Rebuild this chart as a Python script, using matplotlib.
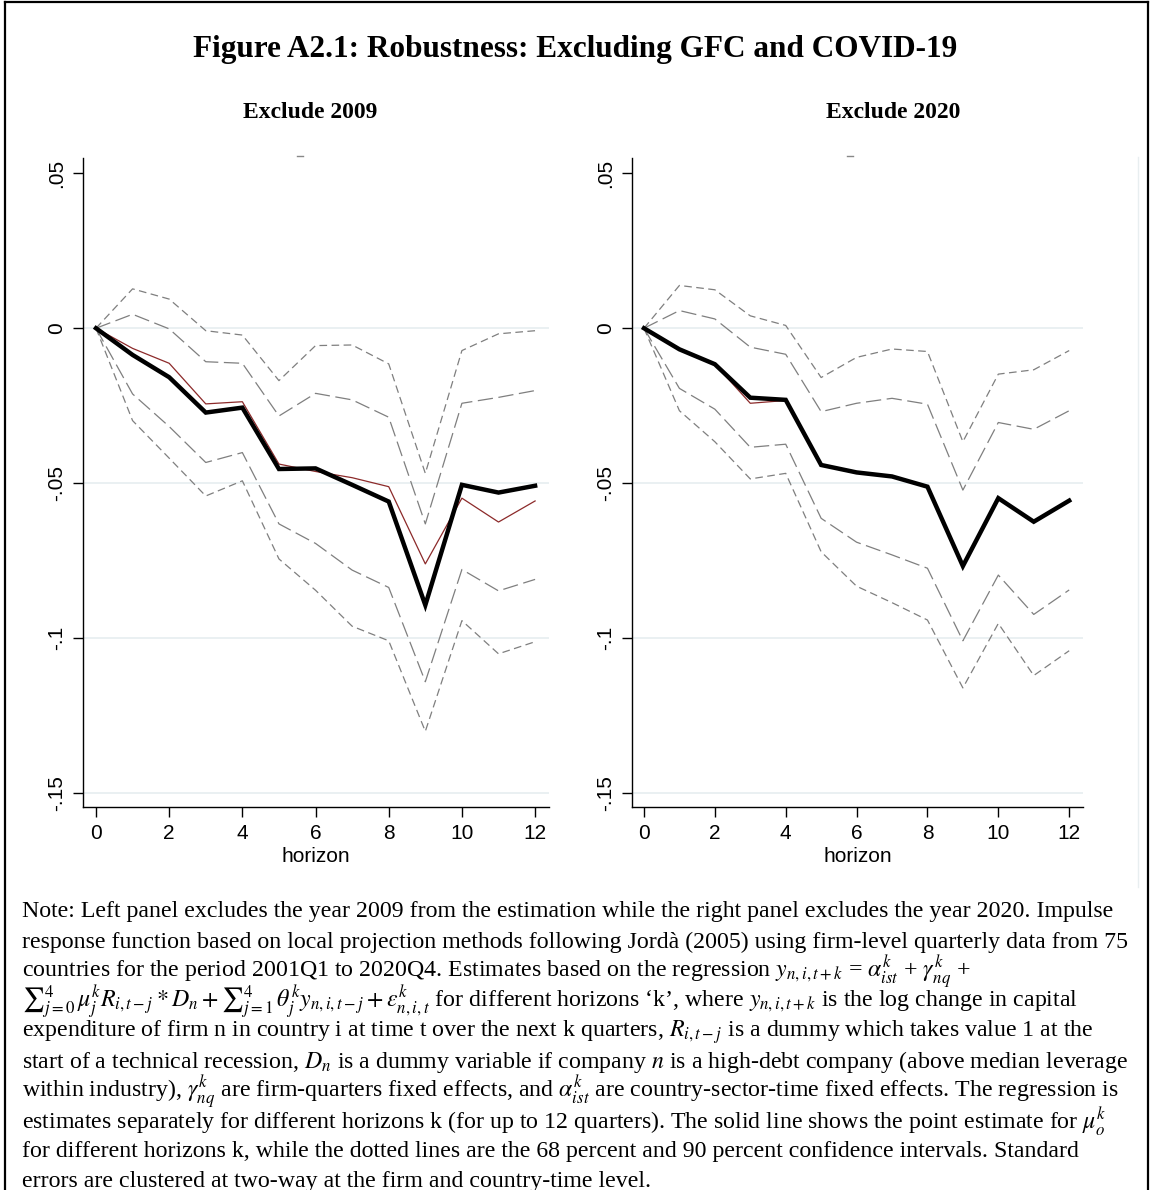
import numpy as np
import matplotlib
matplotlib.use("Agg")
import matplotlib.pyplot as plt
from matplotlib.lines import Line2D

plt.rcParams['font.family'] = ['Liberation Sans', 'DejaVu Sans']
plt.rcParams['mathtext.fontset'] = 'stix'
plt.rcParams['lines.scale_dashes'] = False

# horizons
horizon = [0, 1, 2, 3, 4, 5, 6, 7, 8, 9, 10, 11, 12]

# Exclude 2009 (left panel)
ex09_point = [0, -0.0086, -0.0158, -0.0272, -0.0256, -0.0454, -0.0452, -0.0505, -0.0559, -0.0893, -0.0505, -0.0530, -0.0508]
ex09_base = [0, -0.0065, -0.0113, -0.0244, -0.0237, -0.0438, -0.0462, -0.0482, -0.0511, -0.0760, -0.0548, -0.0625, -0.0557]
ex09_hi90 = [0, 0.0127, 0.0094, -0.0008, -0.0022, -0.0169, -0.0056, -0.0054, -0.0115, -0.0468, -0.0072, -0.0018, -0.0008]
ex09_hi68 = [0, 0.0045, -0.0002, -0.0108, -0.0113, -0.0283, -0.0210, -0.0231, -0.0287, -0.0631, -0.0242, -0.0223, -0.0201]
ex09_lo68 = [0, -0.0212, -0.0317, -0.0433, -0.0401, -0.0631, -0.0694, -0.0780, -0.0836, -0.1140, -0.0778, -0.0847, -0.0810]
ex09_lo90 = [0, -0.0298, -0.0419, -0.0541, -0.0492, -0.0744, -0.0845, -0.0961, -0.1008, -0.1300, -0.0943, -0.1050, -0.1011]

# Exclude 2020 (right panel)
ex20_point = [0, -0.0068, -0.0116, -0.0224, -0.0231, -0.0441, -0.0465, -0.0478, -0.0511, -0.0767, -0.0548, -0.0624, -0.0556]
ex20_base = [0, -0.0068, -0.0116, -0.0242, -0.0233, -0.0441, -0.0465, -0.0478, -0.0511, -0.0767, -0.0548, -0.0624, -0.0556]
ex20_hi90 = [0, 0.0138, 0.0124, 0.0040, 0.0009, -0.0159, -0.0094, -0.0067, -0.0075, -0.0366, -0.0148, -0.0134, -0.0072]
ex20_hi68 = [0, 0.0057, 0.0030, -0.0061, -0.0084, -0.0269, -0.0242, -0.0226, -0.0245, -0.0522, -0.0304, -0.0326, -0.0266]
ex20_lo68 = [0, -0.0194, -0.0261, -0.0384, -0.0374, -0.0613, -0.0690, -0.0731, -0.0774, -0.1008, -0.0796, -0.0923, -0.0844]
ex20_lo90 = [0, -0.0266, -0.0366, -0.0486, -0.0468, -0.0721, -0.0832, -0.0885, -0.0941, -0.1160, -0.0952, -0.1120, -0.1040]

yticks = [0.05, 0, -0.05, -0.1, -0.15]
ytick_labels = ['.05', '0', '-.05', '-.1', '-.15']
xticks = [0, 2, 4, 6, 8, 10, 12]

title = "Figure A2.1: Robustness: Excluding GFC and COVID-19"
subtitles = ["Exclude 2009", "Exclude 2020"]

note_lines = [
    "Note: Left panel excludes the year 2009 from the estimation while the right panel excludes the year 2020. Impulse",
    "response function based on local projection methods following Jordà (2005) using firm-level quarterly data from 75",
    r"countries for the period 2001Q1 to 2020Q4. Estimates based on the regression $y_{n,i,t+k}$ = $\alpha^k_{ist}$ + $\gamma^k_{nq}$ +",
    r"$∑^{4}_{j=0}\,\mu^k_j R_{i,t-j} * D_n + ∑^{4}_{j=1}\,\theta^k_j y_{n,i,t-j} + \varepsilon^k_{n,i,t}$ for different horizons ‘k’, where $y_{n,i,t+k}$ is the log change in capital",
    r"expenditure of firm n in country i at time t over the next k quarters, $R_{i,t-j}$ is a dummy which takes value 1 at the",
    r"start of a technical recession, $D_n$ is a dummy variable if company $n$ is a high-debt company (above median leverage",
    r"within industry), $\gamma^k_{nq}$ are firm-quarters fixed effects, and $\alpha^k_{ist}$ are country-sector-time fixed effects. The regression is",
    r"estimates separately for different horizons k (for up to 12 quarters). The solid line shows the point estimate for $\mu^k_o$",
    "for different horizons k, while the dotted lines are the 68 percent and 90 percent confidence intervals. Standard",
    "errors are clustered at two-way at the firm and country-time level.",
]

W, H = 1151, 1190
fig = plt.figure(figsize=(W / 100, H / 100), dpi=100)


def fx(x):
    return x / W


def fy(y):
    return 1 - y / H


panels = [
    (83, 549, (-0.355, 12.38), ex09_point, ex09_base, ex09_hi90, ex09_hi68, ex09_lo68, ex09_lo90),
    (632, 1083, (-0.338, 12.39), ex20_point, ex20_base, ex20_hi90, ex20_hi68, ex20_lo68, ex20_lo90),
]

grey = '#7f7f7f'
for left, right, xl, pt, base, hi90, hi68, lo68, lo90 in panels:
    ax = fig.add_axes([fx(left), fy(807), (right - left) / W, (807 - 158) / H])
    for g in [0, -0.05, -0.1, -0.15]:
        ax.axhline(g, color='#e6eef0', lw=1.2, zorder=0)
    ax.plot(horizon, hi90, color=grey, lw=0.9, dashes=(5.5, 3.2))
    ax.plot(horizon, lo90, color=grey, lw=0.9, dashes=(5.5, 3.2))
    ax.plot(horizon, hi68, color=grey, lw=0.9, dashes=(11, 4))
    ax.plot(horizon, lo68, color=grey, lw=0.9, dashes=(11, 4))
    ax.plot(horizon, base, color='#8c2a2a', lw=0.9)
    ax.plot(horizon, pt, color='black', lw=3.2, solid_joinstyle='miter')
    ax.set_xlim(*xl)
    ax.set_ylim(-0.1544, 0.0549)
    ax.set_xticks(xticks)
    ax.set_yticks(yticks)
    ax.set_yticklabels(ytick_labels, rotation=90, va='center')
    ax.tick_params(axis='both', length=7, width=1, labelsize=15, colors='black', pad=5)
    ax.set_xlabel('horizon', fontsize=15, labelpad=3)
    ax.spines['top'].set_visible(False)
    ax.spines['right'].set_visible(False)
    ax.spines['left'].set_linewidth(1)
    ax.spines['bottom'].set_linewidth(1)

# titles
fig.text(fx(575), fy(50), title, family='Liberation Serif', weight='bold', fontsize=22.5,
         ha='center', va='center')
fig.text(fx(310), fy(112), subtitles[0], family='Liberation Serif', weight='bold', fontsize=17,
         ha='center', va='center')
fig.text(fx(893), fy(112), subtitles[1], family='Liberation Serif', weight='bold', fontsize=17,
         ha='center', va='center')

# small remnants at top of each panel
for cx in [300, 850]:
    fig.add_artist(Line2D([fx(cx - 3), fx(cx + 3)], [fy(156), fy(156)], color='#888888', lw=1))

# faint right border of the graph image
fig.add_artist(Line2D([fx(1138), fx(1138)], [fy(157), fy(887)], color='#e8eef0', lw=1))

# outer frame
fig.add_artist(Line2D([fx(5), fx(5)], [fy(2), 0], color='black', lw=1.6))
fig.add_artist(Line2D([fx(5), fx(1148)], [fy(2), fy(2)], color='black', lw=1.6))
fig.add_artist(Line2D([fx(1148), fx(1148)], [fy(2), 0], color='black', lw=1.6))

# note
for i, line in enumerate(note_lines):
    fig.text(fx(22), fy(912 + 30 * i), line, family='Liberation Serif', fontsize=17.2,
             ha='left', va='center')

fig.savefig('out.png', dpi=100)
